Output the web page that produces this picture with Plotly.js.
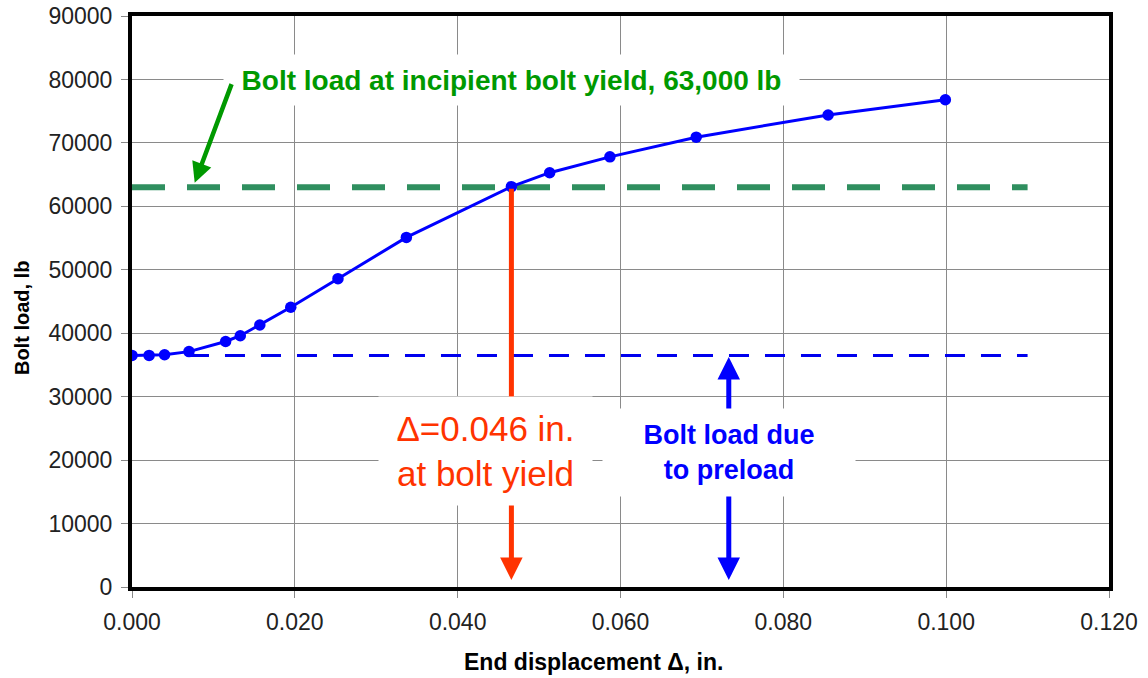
<!DOCTYPE html>
<html>
<head>
<meta charset="utf-8">
<script src="https://cdn.plot.ly/plotly-3.0.1.min.js"></script>
<style>html,body{margin:0;padding:0;background:#fff;}#chart{width:1148px;height:678px;}</style>
</head>
<body>
<div id="chart"></div>
<script>
// Measured curve
const displacement = [0.000, 0.0021, 0.0040, 0.0070, 0.0115, 0.0133, 0.0157, 0.0195, 0.0253, 0.0337, 0.0466, 0.0513, 0.0587, 0.0693, 0.0855, 0.0999];
const boltLoad = [36500, 36500, 36600, 37100, 38700, 39600, 41300, 44100, 48600, 55100, 63100, 65300, 67800, 70900, 74400, 76800];

// Reference lines
const yieldLoad = 63000;
const yieldLineX = [0.000, 0.110];
const preloadLoad = 36500;
const preloadLineX = [0.0070, 0.110];

// Annotation values
const yieldDisp = 0.0466;
const preloadArrowX = 0.0733;
const arrowBottomY = 1100;

const xTicks = [0, 0.02, 0.04, 0.06, 0.08, 0.10, 0.12];
const xTickText = ['0.000', '0.020', '0.040', '0.060', '0.080', '0.100', '0.120'];
const yTicks = [0, 10000, 20000, 30000, 40000, 50000, 60000, 70000, 80000, 90000];

const FONT = 'Liberation Sans, Arial, sans-serif';

const traces = [
  {x: yieldLineX, y: yieldLineX.map(() => yieldLoad), mode: 'lines', type: 'scatter',
   line: {color: '#2f8f5f', width: 6, dash: '33px,22px'}, hoverinfo: 'skip'},
  {x: preloadLineX, y: preloadLineX.map(() => preloadLoad), mode: 'lines', type: 'scatter',
   line: {color: '#0000ee', width: 3, dash: '20px,16px'}, hoverinfo: 'skip'},
  {x: displacement, y: boltLoad, mode: 'lines+markers', type: 'scatter',
   line: {color: '#0000ff', width: 3}, marker: {color: '#0000ff', size: 11.5}}
];

const annotations = [
  // red arrow (drawn first, text box covers middle)
  {x: yieldDisp, y: arrowBottomY, ax: yieldDisp, ay: yieldLoad, xref: 'x', yref: 'y', axref: 'x', ayref: 'y',
   text: '', showarrow: true, arrowhead: 2, arrowsize: 0.9, arrowwidth: 5, arrowcolor: '#ff3300', standoff: 0},
  // blue double arrow
  {x: preloadArrowX, y: arrowBottomY, ax: preloadArrowX, ay: preloadLoad, xref: 'x', yref: 'y', axref: 'x', ayref: 'y',
   text: '', showarrow: true, arrowhead: 2, startarrowhead: 2, arrowside: 'end+start', arrowsize: 0.9, startarrowsize: 0.9,
   arrowwidth: 5, arrowcolor: '#0000ff', standoff: 0, startstandoff: 0},
  // green label
  {x: 0.0466, y: 79970, xref: 'x', yref: 'y', showarrow: false, xanchor: 'center', yanchor: 'middle',
   text: 'Bolt load at incipient bolt yield, 63,000 lb', bgcolor: '#ffffff', borderpad: 0, width: 575, height: 50,
   font: {family: FONT, size: 28, color: '#009900', weight: 'bold'}},
  // green arrow
  {x: 0.0077, y: 63700, ax: 0.0123, ay: 79500, xref: 'x', yref: 'y', axref: 'x', ayref: 'y',
   text: '', showarrow: true, arrowhead: 2, arrowsize: 0.9, arrowwidth: 4.5, arrowcolor: '#009900', standoff: 0},
  // red label
  {x: 0.0434, y: 21450, xref: 'x', yref: 'y', showarrow: false, xanchor: 'center', yanchor: 'middle',
   text: 'Δ=0.046 in.<br>at bolt yield', bgcolor: '#ffffff', borderpad: 0, width: 213, height: 108,
   font: {family: FONT, size: 35, color: '#ff3300'}},
  // blue label
  {x: 0.0733, y: 21140, xref: 'x', yref: 'y', showarrow: false, xanchor: 'center', yanchor: 'middle',
   text: 'Bolt load due<br>to preload', bgcolor: '#ffffff', borderpad: 0, width: 252, height: 87,
   font: {family: FONT, size: 27, color: '#0000ff', weight: 'bold'}},
  // axis titles
  {xref: 'paper', yref: 'paper', x: 0.472, y: -0.131, showarrow: false, xanchor: 'center', yanchor: 'middle',
   text: 'End displacement Δ, in.', font: {family: FONT, size: 23, color: '#000', weight: 'bold'}},
  {xref: 'paper', yref: 'paper', x: -0.1126, y: 0.471, showarrow: false, xanchor: 'center', yanchor: 'middle',
   textangle: -90, text: 'Bolt load, lb', font: {family: FONT, size: 20, color: '#000', weight: 'bold'}}
];

const axisCommon = {
  showline: true, linecolor: '#000', linewidth: 4, mirror: true,
  showgrid: true, gridcolor: '#8a8a8a', gridwidth: 1, zeroline: false,
  ticks: 'outside', ticklen: 7, tickcolor: '#888', tickwidth: 1,
  tickfont: {family: FONT, size: 23, color: '#222'}
};

const layout = {
  width: 1148, height: 678,
  margin: {l: 132, r: 39, t: 16, b: 91},
  paper_bgcolor: '#fff', plot_bgcolor: '#fff',
  showlegend: false,
  xaxis: Object.assign({}, axisCommon, {
    range: [0, 0.12], tickvals: xTicks, ticktext: xTickText, ticklabelstandoff: 4
  }),
  yaxis: Object.assign({}, axisCommon, {
    range: [0, 90000], tickvals: yTicks, ticktext: yTicks.map(String), ticklabelstandoff: 4
  }),
  annotations: annotations
};

Plotly.newPlot('chart', traces, layout, {displayModeBar: false, staticPlot: true});
</script>
</body>
</html>
